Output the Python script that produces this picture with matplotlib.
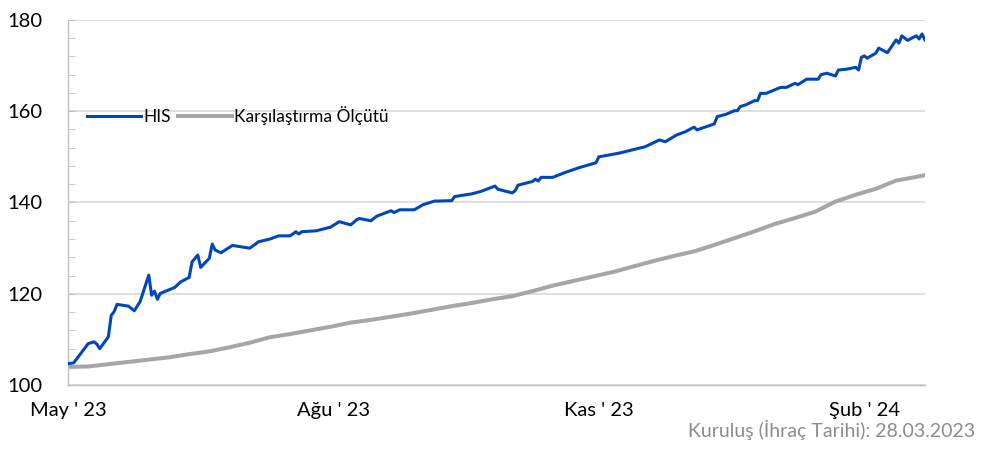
import pandas as pd
import matplotlib.pyplot as plt
from matplotlib.ticker import MultipleLocator

plt.rcParams['font.family'] = ['Lato', 'DejaVu Sans']

# HIS fund index
his_dates = [
    '2023-05-01', '2023-05-03', '2023-05-08', '2023-05-10', '2023-05-11', '2023-05-12',
    '2023-05-15', '2023-05-16', '2023-05-17', '2023-05-18', '2023-05-22', '2023-05-24',
    '2023-05-26', '2023-05-29', '2023-05-30', '2023-05-31', '2023-06-01', '2023-06-02',
    '2023-06-07', '2023-06-09', '2023-06-12', '2023-06-13', '2023-06-15', '2023-06-16',
    '2023-06-19', '2023-06-20', '2023-06-21', '2023-06-23', '2023-06-27', '2023-07-03',
    '2023-07-05', '2023-07-06', '2023-07-10', '2023-07-13', '2023-07-17', '2023-07-19',
    '2023-07-20', '2023-07-21', '2023-07-26', '2023-07-31', '2023-08-03', '2023-08-07',
    '2023-08-09', '2023-08-10', '2023-08-14', '2023-08-16', '2023-08-21', '2023-08-22',
    '2023-08-24', '2023-08-29', '2023-09-01', '2023-09-05', '2023-09-11', '2023-09-12',
    '2023-09-18', '2023-09-21', '2023-09-26', '2023-09-27', '2023-10-02', '2023-10-03',
    '2023-10-04', '2023-10-09', '2023-10-10', '2023-10-11', '2023-10-12', '2023-10-16',
    '2023-10-20', '2023-10-25', '2023-10-31', '2023-11-01', '2023-11-08', '2023-11-15',
    '2023-11-17', '2023-11-22', '2023-11-24', '2023-11-28', '2023-12-01', '2023-12-04',
    '2023-12-05', '2023-12-11', '2023-12-12', '2023-12-15', '2023-12-18', '2023-12-19',
    '2023-12-20', '2023-12-22', '2023-12-25', '2023-12-26', '2023-12-27', '2023-12-29',
    '2024-01-03', '2024-01-05', '2024-01-08', '2024-01-09', '2024-01-12', '2024-01-16',
    '2024-01-17', '2024-01-19', '2024-01-22', '2024-01-23', '2024-01-26', '2024-01-29',
    '2024-01-30', '2024-01-31', '2024-02-01', '2024-02-02', '2024-02-05', '2024-02-06',
    '2024-02-09', '2024-02-12', '2024-02-13', '2024-02-14', '2024-02-15', '2024-02-16',
    '2024-02-19', '2024-02-20', '2024-02-21', '2024-02-22',
]
his_values = [
    104.7, 104.9, 109.1, 109.5, 109.0, 108.0,
    110.6, 115.3, 116.1, 117.7, 117.3, 116.3,
    118.3, 124.1, 119.7, 120.6, 118.8, 120.1,
    121.4, 122.6, 123.6, 127.0, 128.5, 125.8,
    127.8, 130.9, 129.6, 129.0, 130.6, 130.0,
    130.9, 131.4, 132.0, 132.7, 132.7, 133.6,
    133.1, 133.6, 133.8, 134.6, 135.8, 135.1,
    136.2, 136.5, 136.0, 137.0, 138.2, 137.8,
    138.4, 138.4, 139.5, 140.3, 140.4, 141.3,
    141.9, 142.4, 143.6, 142.9, 142.1, 142.6,
    143.8, 144.6, 145.1, 144.7, 145.5, 145.5,
    146.5, 147.6, 148.7, 150.0, 150.8, 151.9,
    152.2, 153.7, 153.3, 154.8, 155.5, 156.5,
    155.9, 157.2, 158.8, 159.3, 160.1, 160.1,
    161.0, 161.4, 162.3, 162.3, 163.9, 163.9,
    165.2, 165.2, 166.1, 165.8, 167.0, 167.0,
    168.0, 168.3, 167.7, 169.0, 169.2, 169.6,
    169.0, 171.8, 172.1, 171.6, 172.7, 173.8,
    172.8, 175.6, 174.9, 176.5, 176.0, 175.5,
    176.5, 175.8, 176.9, 175.6,
]

# benchmark, read roughly once a week
bm_dates = pd.date_range('2023-05-01', periods=43, freq='7D').strftime('%Y-%m-%d').tolist() + ['2024-02-22']
bm_values = [
    104.0, 104.1, 104.6, 105.1, 105.6, 106.1, 106.8, 107.4, 108.3, 109.3,
    110.5, 111.2, 112.0, 112.8, 113.7, 114.3, 115.0, 115.7, 116.5, 117.3,
    118.0, 118.8, 119.5, 120.6, 121.8, 122.8, 123.8, 124.8, 126.0, 127.2,
    128.3, 129.3, 130.7, 132.2, 133.7, 135.3, 136.6, 138.0, 140.2, 141.7,
    143.0, 144.8, 145.6, 146.0,
]

tick_dates = ['2023-05-01', '2023-08-01', '2023-11-01', '2024-02-01']
tick_labels = ["May ' 23", "Ağu ' 23", "Kas ' 23", "Şub ' 24"]

fig = plt.figure(figsize=(9.85, 4.5), dpi=100)
ax = fig.add_axes([0.069, 0.144, 0.870, 0.812])

ax.plot(pd.to_datetime(bm_dates), bm_values, color='#A6A6A6', lw=2.9,
        label='Karşılaştırma Ölçütü', zorder=2)
ax.plot(pd.to_datetime(his_dates), his_values, color='#0047BB', lw=2.2,
        label='HIS', zorder=3)

ax.set_xlim(pd.Timestamp('2023-05-01'), pd.Timestamp('2024-02-22'))
ax.set_ylim(100, 180)
ax.yaxis.set_major_locator(MultipleLocator(20))
ax.yaxis.set_minor_locator(MultipleLocator(4))
ax.grid(axis='y', color='#D9D9D9', lw=1.2)
ax.set_axisbelow(True)

ax.set_xticks(pd.to_datetime(tick_dates))
ax.set_xticklabels(tick_labels)

for s in ['top', 'right']:
    ax.spines[s].set_visible(False)
for s in ['left', 'bottom']:
    ax.spines[s].set_color('#BFBFBF')
    ax.spines[s].set_linewidth(1.0)

ax.tick_params(axis='x', length=0, pad=12, labelsize=14.5, colors='black')
ax.tick_params(axis='y', which='both', direction='in', length=5, color='#BFBFBF',
               labelsize=14.5, pad=18)

handles, labels = ax.get_legend_handles_labels()
ax.legend(handles[::-1], labels[::-1], loc='center left', bbox_to_anchor=(0.008, 0.737),
          ncol=2, frameon=False, fontsize=12.5, handlelength=3.1,
          handletextpad=0.15, columnspacing=0.4, borderaxespad=0.3)

fig.text(0.99, 0.022, 'Kuruluş (İhraç Tarihi): 28.03.2023', ha='right', va='bottom',
         color='#8C8C8C', fontsize=14)

fig.savefig('out.png', dpi=100)
